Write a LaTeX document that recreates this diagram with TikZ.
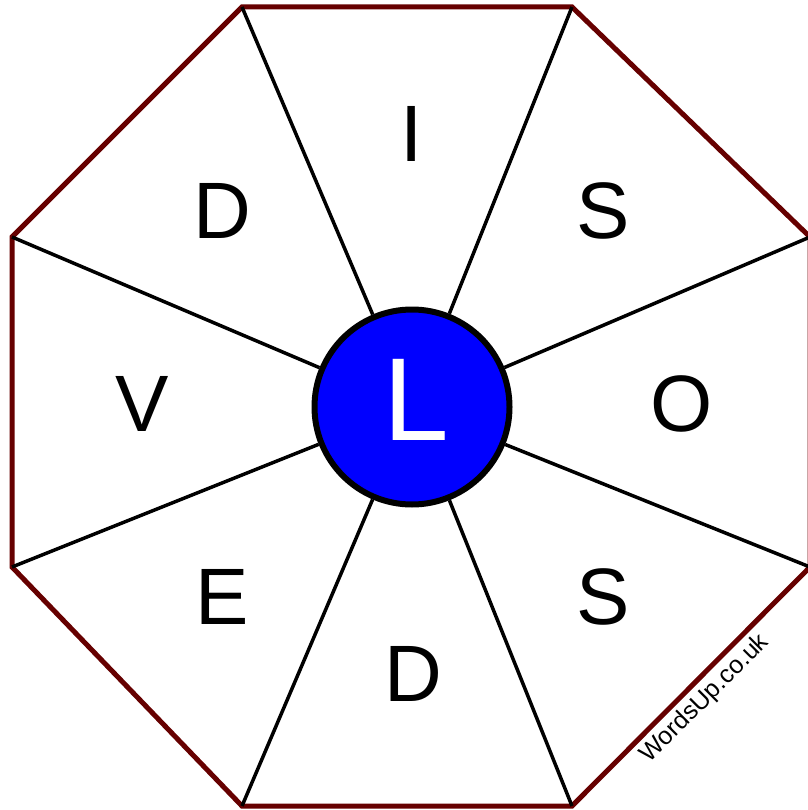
\documentclass[tikz,border=0pt]{standalone}
\usepackage{fontspec}
\setmainfont{Liberation Sans}
\definecolor{wordsRim}{RGB}{102,0,0}
\definecolor{wordsBlue}{RGB}{0,0,255}
\usetikzlibrary{positioning}

\begin{document}
\begin{tikzpicture}[x=1pt, y=-1pt,
  rim/.style={draw=wordsRim, line width=5pt, line join=miter},
  spoke/.style={draw=black, line width=3.5pt},
  hubdisc/.style={circle, draw=black, line width=6pt, fill=wordsBlue, minimum size=195pt, inner sep=0pt},
  letter/.style={inner sep=0pt, font=\fontsize{80}{80}\selectfont},
  credit/.style={inner sep=0pt, font=\fontsize{25}{25}\selectfont, rotate=45}
]
  \useasboundingbox (0,0) rectangle (807,810);

  % corners of the octagon
  \coordinate (v1) at (242,7);
  \coordinate (v2) at (572,7);
  \coordinate (v3) at (810,237);
  \coordinate (v4) at (810,567);
  \coordinate (v5) at (572,806);
  \coordinate (v6) at (242,806);
  \coordinate (v7) at (12,567);
  \coordinate (v8) at (12,237);

  \draw[rim] (v1) -- (v2) -- (v3) -- (v4) -- (v5) -- (v6) -- (v7) -- (v8) -- cycle;

  \node[hubdisc] (hub) at (412,407) {};
  \foreach \v in {v1,v2,v3,v4,v5,v6,v7,v8}
    \draw[spoke] (hub) -- (\v);

  \node[letter, text=white, font=\fontsize{118}{118}\selectfont] (centre) at (416,400) {L};

  \node[letter] (top)    at (412,134) {I};
  \node[letter] (topr)   at (603,211) {S};
  \node[letter] (right)  at (682,404) {O};
  \node[letter] (botr)   at (603,597) {S};
  \node[letter] (bottom) at (413,674) {D};
  \node[letter] (botl)   at (222,597) {E};
  \node[letter] (left)   at (142,404) {V};
  \node[letter] (topl)   at (222,211) {D};

  \node[credit] (site) at (705,699) {WordsUp.co.uk};
\end{tikzpicture}
\end{document}
